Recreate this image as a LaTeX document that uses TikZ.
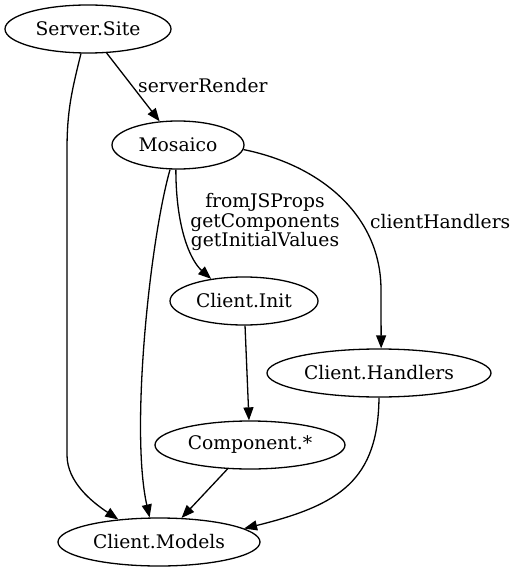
\documentclass[tikz,border=0pt]{standalone}
\usepackage{fontspec}
\setmainfont{DejaVu Serif}
\usetikzlibrary{shapes.geometric,arrows.meta}
\tikzset{
  gnode/.style={draw, ellipse, line width=1.3pt, inner sep=0pt, minimum height=48pt,
    font=\fontsize{18.7}{19.5}\selectfont},
  edge/.style={draw, line width=1.3pt, -{Triangle[length=13pt,width=10pt]}},
  elabel/.style={font=\fontsize{18.7}{19.5}\selectfont, inner sep=0pt, align=center},
}
\begin{document}
\begin{tikzpicture}[x=1pt,y=-1pt]
\useasboundingbox (0,0) rectangle (518,572);
\node[gnode, minimum width=166pt] (srv) at (88,29) {Server.Site};
\node[gnode, minimum width=132pt] (mos) at (178,145) {Mosaico};
\node[gnode, minimum width=148pt] (init) at (244,301) {Client.Init};
\node[gnode, minimum width=224pt] (hnd) at (379,373) {Client.Handlers};
\node[gnode, minimum width=190pt] (cmp) at (250,445) {Component.*};
\node[gnode, minimum width=202pt] (mdl) at (159,542) {Client.Models};

\draw[edge] (srv) -- (mos);
\node[elabel, anchor=west] (l1) at (138,86) {serverRender};

\draw[edge] (srv.-106) .. controls (72,90) and (67,110) .. (67,150) -- (67,455)
  .. controls (67,482) and (92,502) .. (mdl.151);

\draw[edge] (mos.-108) .. controls (150,240) and (130,430) .. (mdl.111);

\draw[edge] (mos.-95) .. controls (176,232) and (192,262) .. (init.146);
\node[elabel] (l2) at (265,222) {fromJSProps\\getComponents\\getInitialValues};

\draw[edge] (mos.-4) .. controls (320,165) and (381,215) .. (381,290) -- (hnd.85);
\node[elabel, anchor=west] (l3) at (370,222) {clientHandlers};

\draw[edge] (init) -- (cmp);
\draw[edge] (cmp) -- (mdl);
\draw[edge] (hnd.-90) .. controls (378,480) and (340,505) .. (mdl.9);
\end{tikzpicture}
\end{document}
